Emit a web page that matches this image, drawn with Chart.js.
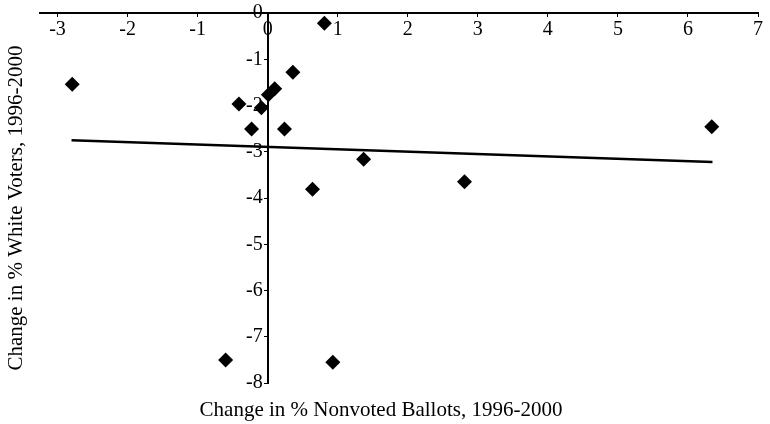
<!DOCTYPE html>
<html>
<head>
<meta charset="utf-8">
<script src="https://cdn.jsdelivr.net/npm/chart.js@4"></script>
<style>
  html, body { margin: 0; padding: 0; background: #fff; }
  #wrap { position: relative; width: 770px; height: 424px; }
</style>
</head>
<body>
<div id="wrap"><canvas id="scatterChart" width="770" height="424"></canvas></div>
<script>
// change in % nonvoted ballots vs change in % white voters, 1996-2000
const nonvotedChange = [-2.79, 0.81, 0.36, 0.10, 0.01, -0.41, -0.09, -0.23, 0.24, 1.37, 0.64, 2.81, 6.34, -0.60, 0.93];
const whiteChange    = [-1.54, -0.22, -1.28, -1.64, -1.77, -1.97, -2.05, -2.51, -2.51, -3.16, -3.81, -3.65, -2.46, -7.50, -7.55];

// fitted line end points
const fitX = [-2.8, 6.35];
const fitY = [-2.75, -3.22];

const xTicks = [-3, -2, -1, 0, 1, 2, 3, 4, 5, 6, 7];
const yTicks = [-8, -7, -6, -5, -4, -3, -2, -1, 0];

const xTitle = "Change in % Nonvoted Ballots, 1996-2000";
const yTitle = "Change in % White Voters, 1996-2000";

const serif = "'Liberation Serif', 'Times New Roman', serif";

// axis titles sit outside the crossing axes, so draw them by hand
const axisTitles = {
    id: "axisTitles",
    afterDraw(chart) {
        const ctx = chart.ctx;
        ctx.save();
        ctx.fillStyle = "#000";
        ctx.font = "21px " + serif;
        ctx.textAlign = "center";
        ctx.textBaseline = "alphabetic";
        ctx.fillText(xTitle, 381, 416);
        ctx.translate(22, 208);
        ctx.rotate(-Math.PI / 2);
        ctx.fillText(yTitle, 0, 0);
        ctx.restore();
    }
};

const ctx = document.getElementById("scatterChart").getContext("2d");

new Chart(ctx, {
    type: "scatter",
    data: {
        datasets: [
            {
                data: nonvotedChange.map((x, i) => ({ x, y: whiteChange[i] })),
                pointStyle: "rectRot",
                pointRadius: 7.5,
                backgroundColor: "#000",
                borderColor: "#000",
                borderWidth: 0
            },
            {
                data: fitX.map((x, i) => ({ x, y: fitY[i] })),
                showLine: true,
                borderColor: "#000",
                borderWidth: 2.5,
                pointRadius: 0
            }
        ]
    },
    options: {
        responsive: false,
        animation: false,
        layout: { padding: { left: 40, right: 12, top: 13, bottom: 41 } },
        plugins: {
            legend: { display: false },
            tooltip: { enabled: false }
        },
        scales: {
            x: {
                type: "linear",
                min: -3.25,
                max: 7,
                position: { y: 0 },
                afterBuildTicks: scale => { scale.ticks = xTicks.map(v => ({ value: v })); },
                grid: { drawOnChartArea: false, drawTicks: true, tickLength: 3, color: "#000", lineWidth: 1 },
                border: { color: "#000", width: 2 },
                ticks: { color: "#000", font: { family: serif, size: 20 }, padding: 2, maxRotation: 0 }
            },
            y: {
                type: "linear",
                min: -8,
                max: 0,
                position: { x: 0 },
                afterBuildTicks: scale => { scale.ticks = yTicks.map(v => ({ value: v })); },
                grid: { drawOnChartArea: false, drawTicks: true, tickLength: 3, color: "#000", lineWidth: 1 },
                border: { color: "#000", width: 2 },
                // trailing space keeps the labels clear of the tick marks
                ticks: { color: "#000", font: { family: serif, size: 20, lineHeight: 1 }, callback: v => v + " " }
            }
        }
    },
    plugins: [axisTitles]
});
</script>
</body>
</html>
